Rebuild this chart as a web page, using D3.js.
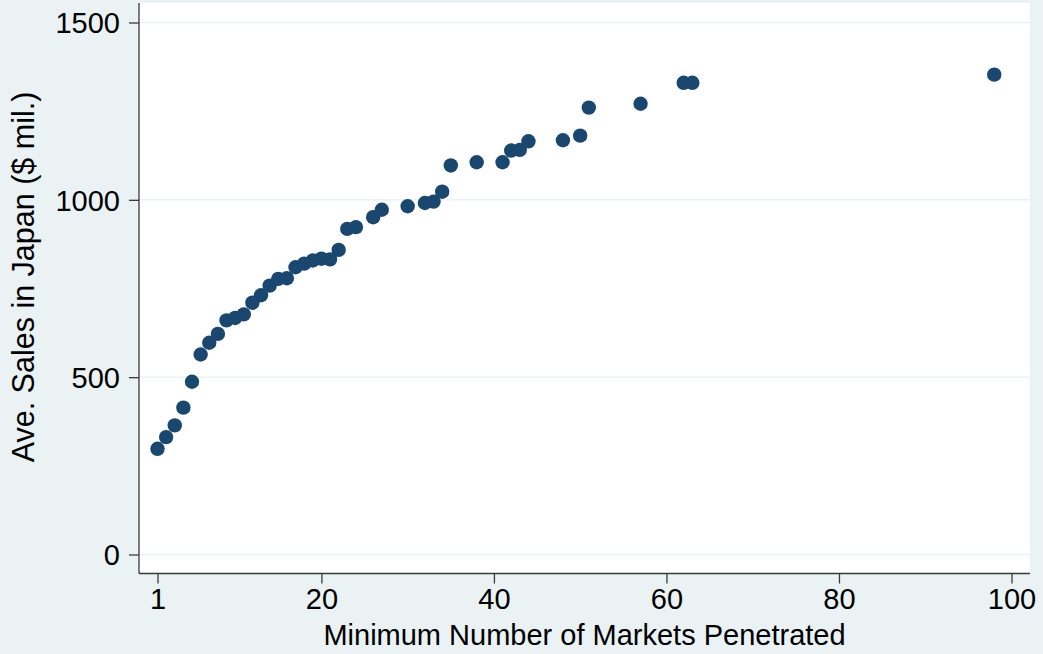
<!DOCTYPE html>
<html>
<head>
<meta charset="utf-8">
<script src="https://cdn.jsdelivr.net/npm/d3@7"></script>
<style>
  html, body { margin: 0; padding: 0; background: #EAF2F3; }
  svg { display: block; }
  text { font-family: "Liberation Sans", Arial, sans-serif; fill: #000; }
</style>
</head>
<body>
<svg id="chart" width="1043" height="654"></svg>
<script>
// Minimum number of markets penetrated vs. average sales in Japan
const markets = [1,2,3,4,5,6,7,8,9,10,11,12,13,14,15,16,17,18,19,20,21,22,23,24,26,27,30,32,33,34,35,38,41,42,43,44,48,50,51,57,62,63,98];
const sales   = [298,331,364,414,487,564,597,622,660,667,677,710,731,758,777,779,810,820,829,834,832,859,918,923,951,972,982,991,995,1023,1097,1106,1106,1139,1141,1165,1168,1181,1260,1271,1330,1330,1353];
const xTicks = [1,20,40,60,80,100];
const yTicks = [0,500,1000,1500];
const xTitle = "Minimum Number of Markets Penetrated";
const yTitle = "Ave. Sales in Japan ($ mil.)";

const plot = { left: 139, right: 1030, top: 3, bottom: 573.5 };

const svg = d3.select("#chart");

const x = d3.scaleLinear().domain([1, 100]).range([157.5, 1011.5]);
const y = d3.scaleLinear().domain([0, 1500]).range([554.5, 22.5]);

// plot region
svg.append("rect")
  .attr("x", plot.left).attr("y", plot.top)
  .attr("width", plot.right - plot.left).attr("height", plot.bottom - plot.top)
  .attr("fill", "#ffffff");

// horizontal gridlines
svg.append("g").selectAll("line").data(yTicks).join("line")
  .attr("x1", plot.left).attr("x2", plot.right)
  .attr("y1", d => y(d)).attr("y2", d => y(d))
  .attr("stroke", "#EAF2F3").attr("stroke-width", 1.5);

// y axis
const yAxis = svg.append("g")
  .attr("transform", `translate(${plot.left},0)`)
  .call(d3.axisLeft(y).tickValues(yTicks).tickSize(10).tickPadding(9).tickFormat(d3.format("d")));
yAxis.select(".domain").attr("d", `M0,${plot.top}V${plot.bottom}`);

// x axis
const xAxis = svg.append("g")
  .attr("transform", `translate(0,${plot.bottom})`)
  .call(d3.axisBottom(x).tickValues(xTicks).tickSize(10).tickPadding(4).tickFormat(d3.format("d")));
xAxis.select(".domain").attr("d", `M${plot.left},0H${plot.right}`);

svg.selectAll(".domain, .tick line").attr("stroke", "#3a3a3a").attr("stroke-width", 1.3);
svg.selectAll(".tick text")
  .attr("font-family", "Liberation Sans, Arial, sans-serif")
  .attr("font-size", 29).attr("fill", "#000");
yAxis.selectAll(".tick text").attr("dy", "0.36em");
xAxis.selectAll(".tick text").attr("dy", "0.74em");

// axis titles
svg.append("text")
  .attr("x", (plot.left + plot.right) / 2).attr("y", 645)
  .attr("text-anchor", "middle").attr("font-size", 29)
  .text(xTitle);

svg.append("text")
  .attr("transform", `translate(34,277) rotate(-90)`)
  .attr("text-anchor", "middle").attr("font-size", 30.5)
  .text(yTitle);

// scatter points
svg.append("g").selectAll("circle").data(markets.map((m, i) => [m, sales[i]])).join("circle")
  .attr("cx", d => x(d[0])).attr("cy", d => y(d[1]))
  .attr("r", 7.2)
  .attr("fill", "#1A476F");
</script>
</body>
</html>
